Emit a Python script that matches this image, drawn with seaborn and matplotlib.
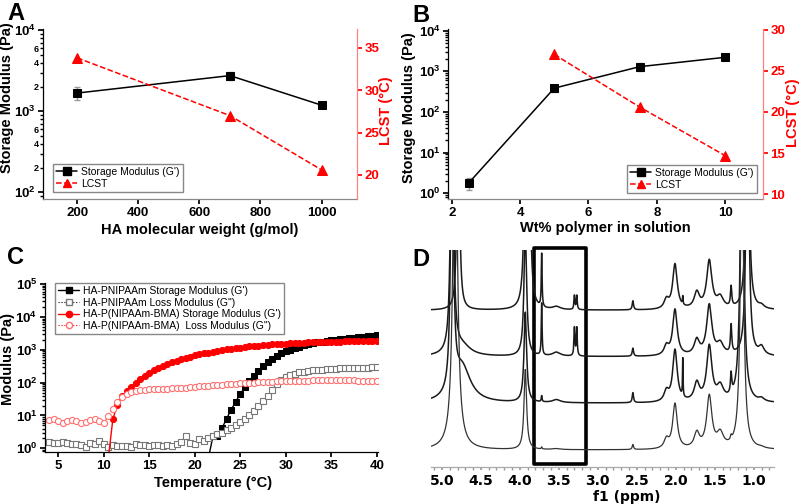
import numpy as np
import pandas as pd
import matplotlib
matplotlib.use('Agg')
import matplotlib.pyplot as plt
import seaborn as sns
from matplotlib.ticker import LogLocator, FuncFormatter, NullFormatter, MultipleLocator
from matplotlib.lines import Line2D
from matplotlib.patches import Rectangle

# ---------------- data ----------------
# Panel A: HA molecular weight series
mw = [200, 700, 1000]
mw_storage = [1680, 2760, 1190]
mw_storage_err = [290, 300, 60]
mw_lcst = [33.8, 27.0, 20.6]

# Panel B: polymer wt% series
wt = [2.5, 5, 7.5, 10]
wt_storage = [1.8, 385, 1300, 2210]
wt_storage_err = [0.6, 70, 300, 300]
wt_lcst_x = [5, 7.5, 10]
wt_lcst = [27.0, 20.6, 14.7]

# Panel C: temperature sweeps (0.5 C steps)
temp_all = [4.0, 4.5, 5.0, 5.5, 6.0, 6.5, 7.0, 7.5, 8.0, 8.5, 9.0, 9.5,
            10.0, 10.5, 11.0, 11.5, 12.0, 12.5, 13.0, 13.5, 14.0, 14.5, 15.0, 15.5,
            16.0, 16.5, 17.0, 17.5, 18.0, 18.5, 19.0, 19.5, 20.0, 20.5, 21.0, 21.5,
            22.0, 22.5, 23.0, 23.5, 24.0, 24.5, 25.0, 25.5, 26.0, 26.5, 27.0, 27.5,
            28.0, 28.5, 29.0, 29.5, 30.0, 30.5, 31.0, 31.5, 32.0, 32.5, 33.0, 33.5,
            34.0, 34.5, 35.0, 35.5, 36.0, 36.5, 37.0, 37.5, 38.0, 38.5, 39.0, 39.5, 40.0]
pn_loss = [1.6, 1.5, 1.5, 1.6, 1.5, 1.4, 1.4, 1.3, 1.1, 1.5, 1.4, 1.7,
           1.4, 1.1, 1.3, 1.2, 1.2, 1.2, 1.1, 1.4, 1.3, 1.3, 1.2, 1.3,
           1.3, 1.2, 1.3, 1.2, 1.4, 1.6, 2.3, 1.5, 1.4, 1.9, 1.7, 2.0,
           2.3, 2.7, 3.0, 3.5, 4.1, 5.0, 6.3, 8.0, 10.5, 14, 19, 27,
           40, 60, 90, 122, 150, 172, 190, 205, 218, 228, 237, 245,
           252, 258, 263, 268, 272, 276, 279, 282, 285, 288, 290, 292, 295]
bma_loss = [7.5, 8.0, 6.6, 5.8, 7.0, 7.4, 6.9, 6.0, 6.5, 7.2, 7.8, 6.9,
            6.1, 9.5, 16, 26, 37, 46, 52, 56, 59, 61, 63, 64,
            65, 66, 66, 67, 68, 69, 71, 73, 75, 77, 79, 81,
            83, 85, 87, 89, 91, 93, 95, 97, 99, 101, 103, 105,
            106, 108, 109, 110, 111, 112, 113, 114, 115, 116, 117, 118,
            119, 119, 120, 120, 120, 119, 118, 117, 116, 115, 114, 113, 112]
temp_pn = [21.5, 22.0, 22.5, 23.0, 23.5, 24.0, 24.5, 25.0, 25.5, 26.0, 26.5, 27.0, 27.5,
           28.0, 28.5, 29.0, 29.5, 30.0, 30.5, 31.0, 31.5, 32.0, 32.5, 33.0, 33.5,
           34.0, 34.5, 35.0, 35.5, 36.0, 36.5, 37.0, 37.5, 38.0, 38.5, 39.0, 39.5, 40.0]
pn_storage = [0.5, 2.3, 2.3, 4.1, 8.0, 15, 26, 45, 72, 110, 165, 235, 320,
              420, 530, 650, 780, 900, 1020, 1140, 1260, 1370, 1480, 1580, 1680,
              1780, 1870, 1960, 2050, 2140, 2220, 2300, 2380, 2460, 2540, 2620, 2700, 2780]
temp_bma = [10.5, 11.0, 11.5, 12.0, 12.5, 13.0, 13.5, 14.0, 14.5, 15.0, 15.5,
            16.0, 16.5, 17.0, 17.5, 18.0, 18.5, 19.0, 19.5, 20.0, 20.5, 21.0, 21.5,
            22.0, 22.5, 23.0, 23.5, 24.0, 24.5, 25.0, 25.5, 26.0, 26.5, 27.0, 27.5,
            28.0, 28.5, 29.0, 29.5, 30.0, 30.5, 31.0, 31.5, 32.0, 32.5, 33.0, 33.5,
            34.0, 34.5, 35.0, 35.5, 36.0, 36.5, 37.0, 37.5, 38.0, 38.5, 39.0, 39.5, 40.0]
bma_storage = [0.5, 7.8, 21, 38, 56, 76, 100, 128, 160, 200, 240,
               282, 325, 370, 418, 466, 515, 565, 620, 675, 728, 780, 830,
               880, 930, 980, 1030, 1080, 1130, 1180, 1225, 1270, 1310, 1350, 1390,
               1425, 1460, 1495, 1525, 1555, 1585, 1610, 1635, 1660, 1680, 1700, 1720,
               1740, 1755, 1770, 1785, 1800, 1812, 1824, 1835, 1845, 1855, 1864, 1872, 1880]

# Panel D: 1H NMR peak lists (ppm, half width in ppm, heights per trace, top to bottom)
peak_ppm = [4.87, 4.83, 4.79, 4.74, 3.93, 3.88, 3.72, 3.53, 3.30, 3.27, 2.55,
            2.12, 2.01, 1.91, 1.73, 1.57, 1.43, 1.29, 1.15, 1.08, 0.90]
peak_hwhm = [0.02, 0.03, 0.015, 0.13, 0.02, 0.02, 0.006, 0.06, 0.007, 0.007, 0.01,
             0.035, 0.035, 0.004, 0.04, 0.04, 0.05, 0.01, 0.025, 0.02, 0.04]
trace1_h = [0, 0, 300, 0, 160, 160, 53, 3, 14, 14, 9, 9, 45, 8, 16, 48, 11, 20, 0, 300, 3]
trace2_h = [300, 0, 0, 10, 130, 0, 52, 4, 28, 28, 8, 9, 46, 0, 15, 50, 11, 28, 0, 300, 8]
trace3_h = [300, 0, 0, 35, 90, 0, 6, 3, 0, 0, 10, 10, 52, 38, 18, 55, 14, 20, 300, 0, 3]
trace4_h = [0, 400, 0, 0, 80, 0, 2, 1, 0, 0, 5, 9, 45, 0, 15, 52, 14, 4, 300, 0, 1]
trace_offsets = [157, 110.6, 64, 17.3]

# ---------------- style ----------------
sns.set_theme(style='ticks')
plt.rcParams['font.family'] = ['Liberation Sans', 'DejaVu Sans']
plt.rcParams['font.weight'] = 'bold'
plt.rcParams['axes.labelweight'] = 'bold'
for k in ['text.color', 'axes.labelcolor', 'xtick.color', 'ytick.color', 'axes.edgecolor']:
    plt.rcParams[k] = 'black'
plt.rcParams['axes.linewidth'] = 0.9
plt.rcParams['xtick.major.size'] = 3.5
plt.rcParams['ytick.major.size'] = 3.5
plt.rcParams['xtick.minor.size'] = 2
plt.rcParams['ytick.minor.size'] = 2
plt.rcParams['xtick.major.pad'] = 2
plt.rcParams['ytick.major.pad'] = 2

TICK = 9.5
LABEL = 10.5
W, H = 800, 504
fig = plt.figure(figsize=(8, 5.04), dpi=100)


def px_axes(l, t, r, b):
    return fig.add_axes([l / W, 1 - b / H, (r - l) / W, (b - t) / H])


def mantissa_label(v, pos):
    m = int(round(v / 10 ** np.floor(np.log10(v) + 1e-9)))
    return str(m) if m in (2, 4, 6) else ''


leg_kw = dict(frameon=True, fancybox=False, framealpha=1, edgecolor='#888888',
              borderpad=0.3, labelspacing=0.15, handlelength=2.0, handletextpad=0.4,
              borderaxespad=0, prop={'size': 7.5, 'weight': 'normal'})


def modulus_panel(box, x, g, gerr, lx, lcst, xlim, xticks, ylim, rlim, rticks,
                  xlabel, minor_labels, legend_box, label_pos):
    ax = px_axes(*box)
    ax.errorbar(x, g, yerr=gerr, fmt='none', ecolor='#999999', elinewidth=1, capsize=2)
    sns.lineplot(x=x, y=g, ax=ax, color='black', marker='s', markersize=6,
                 markeredgecolor='black', linewidth=1.1)
    ax.set_yscale('log')
    ax.set_xlim(*xlim)
    ax.set_ylim(*ylim)
    ax.set_xticks(xticks)
    ax.yaxis.set_minor_locator(LogLocator(base=10, subs=range(2, 10), numticks=20))
    if minor_labels:
        ax.yaxis.set_minor_formatter(FuncFormatter(mantissa_label))
        ax.tick_params(axis='y', which='minor', labelsize=6.5, pad=1.5)
    else:
        ax.yaxis.set_minor_formatter(NullFormatter())
    ax.tick_params(axis='both', which='major', labelsize=TICK)
    ax.spines['top'].set_visible(False)
    ax.spines['right'].set_visible(False)
    ax.spines['bottom'].set_color('#888888')
    ax.set_xlabel(xlabel, fontsize=LABEL)
    ax.set_ylabel('Storage Modulus (Pa)', fontsize=LABEL)

    ax2 = ax.twinx()
    sns.lineplot(x=lx, y=lcst, ax=ax2, color='red', marker='^', markersize=6.5,
                 markeredgecolor='red', linewidth=1.1, linestyle='--')
    ax2.set_ylim(*rlim)
    ax2.set_yticks(rticks)
    for s in ['top', 'left', 'bottom']:
        ax2.spines[s].set_visible(False)
    ax2.spines['right'].set_color('#ff8080')
    ax2.tick_params(axis='y', colors='red', labelsize=TICK)
    ax2.set_ylabel('LCST (\u00b0C)', fontsize=LABEL, color='red')

    ax.xaxis.set_label_coords(*label_pos[0])
    ax.yaxis.set_label_coords(*label_pos[1])
    ax2.yaxis.set_label_coords(*label_pos[2])
    for lab in (ax.yaxis.label, ax2.yaxis.label, ax.xaxis.label):
        lab.set_va('center')

    handles = [Line2D([], [], color='black', marker='s', markersize=5.5, lw=1.1),
               Line2D([], [], color='red', marker='^', markersize=5.5, lw=1.1, ls='--')]
    ax.legend(handles, ["Storage Modulus (G')", 'LCST'], loc='upper left',
              bbox_to_anchor=(legend_box[0] / W, 1 - legend_box[1] / H),
              bbox_transform=fig.transFigure, **leg_kw)
    return ax, ax2


# ---------------- A ----------------
modulus_panel((43.3, 29.3, 356.7, 199), mw, mw_storage, mw_storage_err, mw, mw_lcst,
              (89, 1115), [200, 400, 600, 800, 1000], (82.6, 1.03e4),
              (17.17, 37.17), [20, 25, 30, 35], 'HA molecular weight (g/mol)', True,
              (53, 164), [(0.499, -0.183), (-0.117, 0.6), (1.095, 0.52)])

# ---------------- B ----------------
modulus_panel((448.3, 29.3, 762.7, 199.3), wt, wt_storage, wt_storage_err, wt_lcst_x, wt_lcst,
              (1.9, 11.1), [2, 4, 6, 8, 10], (0.71, 1.08e4),
              (9.39, 30.05), [10, 15, 20, 25, 30], 'Wt% polymer in solution', False,
              (627, 165), [(0.498, -0.169), (-0.124, 0.54), (1.097, 0.51)])

# ---------------- C ----------------
axc = px_axes(45, 283.3, 377.6, 452.3)
sns.lineplot(x=temp_pn, y=pn_storage, ax=axc, color='black', marker='s', markersize=4.2,
             markeredgecolor='black', linewidth=1.0)
sns.lineplot(x=temp_all, y=pn_loss, ax=axc, color='black', marker='s', markersize=4.2,
             markerfacecolor='white', markeredgecolor='#777777', markeredgewidth=0.8,
             linewidth=0.8, linestyle=':')
sns.lineplot(x=temp_bma, y=bma_storage, ax=axc, color='red', marker='o', markersize=4.4,
             markeredgecolor='red', linewidth=1.0)
sns.lineplot(x=temp_all, y=bma_loss, ax=axc, color='red', marker='o', markersize=4.4,
             markerfacecolor='white', markeredgecolor='#ff7070', markeredgewidth=0.8,
             linewidth=0.8, linestyle=':')
axc.set_yscale('log')
axc.set_xlim(3.54, 40.1)
axc.set_ylim(0.755, 1.07e5)
axc.set_xticks([5, 10, 15, 20, 25, 30, 35, 40])
axc.yaxis.set_major_locator(LogLocator(base=10, numticks=10))
axc.yaxis.set_minor_locator(LogLocator(base=10, subs=range(2, 10), numticks=20))
axc.yaxis.set_minor_formatter(NullFormatter())
axc.tick_params(axis='both', which='major', labelsize=TICK)
axc.spines['top'].set_visible(False)
axc.spines['right'].set_visible(False)
axc.set_xlabel('Temperature (\u00b0C)', fontsize=LABEL)
axc.set_ylabel('Modulus (Pa)', fontsize=LABEL)
axc.xaxis.set_label_coords(0.504, -0.18)
axc.yaxis.set_label_coords(-0.11, 0.552)
axc.xaxis.label.set_va('center')
axc.yaxis.label.set_va('center')
c_handles = [
    Line2D([], [], color='black', marker='s', markersize=4.5, lw=1.0),
    Line2D([], [], color='black', marker='s', markersize=4.5, lw=0.8, ls=':',
           markerfacecolor='white', markeredgecolor='#777777'),
    Line2D([], [], color='red', marker='o', markersize=4.5, lw=1.0),
    Line2D([], [], color='red', marker='o', markersize=4.5, lw=0.8, ls=':',
           markerfacecolor='white', markeredgecolor='#ff7070'),
]
c_labels = ["HA-PNIPAAm Storage Modulus (G')", 'HA-PNIPAAm Loss Modulus (G")',
            "HA-P(NIPAAm-BMA) Storage Modulus (G')", 'HA-P(NIPAAm-BMA)  Loss Modulus (G")']
axc.legend(c_handles, c_labels, loc='upper left', bbox_to_anchor=(55 / W, 1 - 283 / H),
           bbox_transform=fig.transFigure, **leg_kw)

# ---------------- D ----------------
axd = px_axes(431, 250, 774, 467.3)
ppm = np.linspace(0.70, 5.14, 3000)
trace_heights = [trace1_h, trace2_h, trace3_h, trace4_h]
for i, (hts, off) in enumerate(zip(trace_heights, trace_offsets)):
    spec = np.full_like(ppm, off)
    for c, g, h in zip(peak_ppm, peak_hwhm, hts):
        spec += h * g ** 2 / ((ppm - c) ** 2 + g ** 2)
    df = pd.DataFrame({'ppm': ppm, 'intensity': spec})
    sns.lineplot(data=df, x='ppm', y='intensity', ax=axd,
                 color='#1a1a1a' if i < 3 else '#333333', linewidth=1.1 if i < 3 else 0.9)
axd.set_xlim(5.14, 0.74)
axd.set_ylim(0, 217.3)
axd.set_xticks([5.0, 4.5, 4.0, 3.5, 3.0, 2.5, 2.0, 1.5, 1.0])
axd.set_xticklabels(['5.0', '4.5', '4.0', '3.5', '3.0', '2.5', '2.0', '1.5', '1.0'],
                    family='DejaVu Sans', fontsize=10, fontweight='bold')
axd.xaxis.set_minor_locator(MultipleLocator(0.1))
axd.tick_params(axis='x', which='both', colors='#999999', labelcolor='black', length=2, pad=2.5)
axd.set_yticks([])
for s in ['top', 'left', 'right']:
    axd.spines[s].set_visible(False)
axd.spines['bottom'].set_color('#aaaaaa')
axd.set_ylabel('')
axd.set_xlabel('f1 (ppm)', family='DejaVu Sans', fontsize=10, fontweight='bold')
axd.xaxis.set_label_coords(0.571, -0.138)
axd.xaxis.label.set_va('center')
axd.add_patch(Rectangle((3.155, 3.3), 3.815 - 3.155, 219.3 - 3.3, fill=False,
                        edgecolor='black', linewidth=2.6, joinstyle='round', clip_on=False))

# panel letters
for letter, x, y in [('A', 7, 2), ('B', 412, 4), ('C', 7, 246), ('D', 412, 248)]:
    fig.text(x / W, 1 - y / H, letter, fontsize=17, fontweight='bold', va='top', ha='left')

fig.savefig('out.png', dpi=100)
